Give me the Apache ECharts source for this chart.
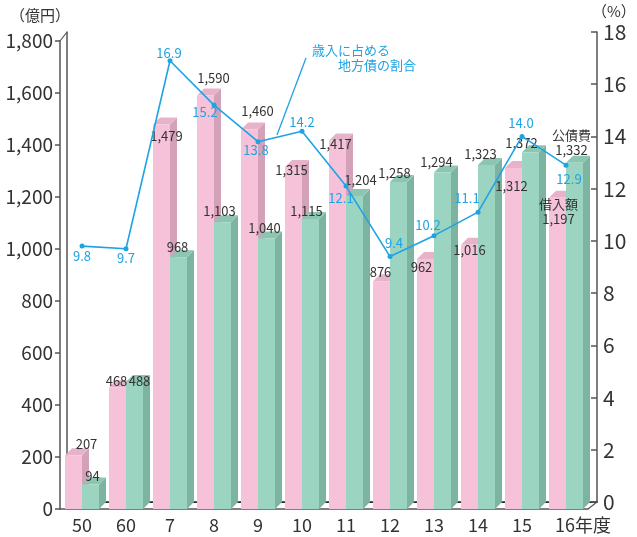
<!DOCTYPE html>
<html>
<head>
<meta charset="utf-8">
<script src="https://cdn.jsdelivr.net/npm/echarts@6/dist/echarts.min.js"></script>
<style>
  html, body { margin: 0; padding: 0; background: #fff; }
  #chart { width: 637px; height: 537px; }
</style>
</head>
<body>
<div id="chart"></div>
<script>
// 年度
const categories = ['50', '60', '7', '8', '9', '10', '11', '12', '13', '14', '15', '16年度'];
// 借入額（億円）
const borrowing = [207, 468, 1479, 1590, 1460, 1315, 1417, 876, 962, 1016, 1312, 1197];
// 公債費（億円）
const debtService = [94, 488, 968, 1103, 1040, 1115, 1204, 1258, 1294, 1323, 1372, 1332];
// 歳入に占める地方債の割合（%）
const bondShare = [9.8, 9.7, 16.9, 15.2, 13.8, 14.2, 12.1, 9.4, 10.2, 11.1, 14.0, 12.9];

const leftTicks = [0, 1800, 200];
const rightTicks = [0, 18, 2];

const FONT = '"Noto Sans CJK JP", "Noto Sans", sans-serif';
const TEXT = '#333';
const AXIS = '#555';
const BLUE = '#1ea3e4';

// label nudges (px) so texts sit clear of neighbouring marks
const borrowingLabelShift = [[13, -11], [-1, -6], [5, 12], [8, -18], [8, -18], [-2, 3], [-2, 3], [-1, -9], [-4, 8], [0, 5], [-2, 18], [1, 14]];
const debtLabelShift = [[2, -8], [5, -1], [-1, -10], [-3, -11], [-2, -11], [-4, -8], [6, -16], [-4, -9], [-6, -10], [-6, -11], [-9, -9], [-3, -20]];
const shareLabelShift = [[0, 10], [0, 9], [-1, -8], [-9, 7], [-2, 8], [0, -9], [-5, 12], [4, -13], [-6, -11], [-11, -14], [-1, -13], [3, 14]];
const borrowingCaption = ['', '', '', '', '', '', '', '', '', '', '', '借入額'];
const debtCaption = ['', '', '', '', '', '', '', '', '', '', '', '公債費'];

const BAR_W = 17, DEPTH = 7;

function fmt(v) { return v.toLocaleString('en-US'); }

function boxBar(colors, side, shifts, captions, zBase) {
  return function (params, api) {
    const i = api.value(0), v = api.value(1);
    const top = api.coord([i, v]);
    const base = api.coord([i, 0]);
    const cx = top[0];
    const x0 = side < 0 ? cx - BAR_W : cx;
    const x1 = x0 + BAR_W;
    const yT = top[1], yB = base[1];
    const sh = shifts[params.dataIndex] || [0, 0];
    const cap = captions[params.dataIndex];
    return {
      type: 'group',
      children: [
        { type: 'polygon', z2: zBase,
          shape: { points: [[x1, yT], [x1 + DEPTH, yT - DEPTH], [x1 + DEPTH, yB - DEPTH], [x1, yB]] },
          style: { fill: colors.side } },
        { type: 'polygon', z2: zBase,
          shape: { points: [[x0, yT], [x0 + DEPTH, yT - DEPTH], [x1 + DEPTH, yT - DEPTH], [x1, yT]] },
          style: { fill: colors.top } },
        { type: 'rect', z2: zBase + 1,
          shape: { x: x0, y: yT, width: BAR_W, height: yB - yT },
          style: { fill: colors.front } },
        { type: 'text', z2: 60,
          x: (x0 + x1) / 2 + sh[0], y: yT + sh[1],
          style: { text: cap ? cap + '\n' + fmt(v) : fmt(v), fill: TEXT, fontSize: 13, lineHeight: 15,
                   fontFamily: FONT, align: 'center', verticalAlign: 'middle' } }
      ]
    };
  };
}

const chart = echarts.init(document.getElementById('chart'), null, { renderer: 'canvas' });

const G0 = { left: 60, right: 49, top: 41, bottom: 28 };   // front plane (bars)
const G1 = { left: 60, right: 49, top: 32, bottom: 35 };   // line, back-plane heights
const G2 = { left: 67, right: 40, top: 32, bottom: 35 };   // back wall

const axisLine = { show: true, lineStyle: { color: AXIS, width: 1.5 } };

const option = {
  backgroundColor: '#fff',
  animation: false,
  textStyle: { fontFamily: FONT },
  grid: [
    Object.assign({}, G0),
    Object.assign({}, G1),
    Object.assign({}, G2)
  ],
  xAxis: [
    { gridIndex: 0, type: 'category', data: categories, boundaryGap: true,
      axisLine: axisLine, axisTick: { show: false },
      axisLabel: { color: TEXT, fontSize: 18, margin: 7, fontFamily: FONT, interval: 0,
        formatter: function (v, idx) { return idx === categories.length - 1 ? '{last|' + v + '}' : v; },
        rich: { last: { fontSize: 18, fontFamily: FONT, color: TEXT, padding: [0, 0, 0, 34] } } } },
    { gridIndex: 1, type: 'category', data: categories, boundaryGap: true, show: false },
    { gridIndex: 2, type: 'category', data: categories, position: 'bottom',
      axisLine: { show: true, lineStyle: { color: AXIS, width: 1 } }, axisTick: { show: false }, axisLabel: { show: false } },
    { gridIndex: 2, type: 'category', data: categories, position: 'top',
      axisLine: { show: true, lineStyle: { color: '#222', width: 1.5 } }, axisTick: { show: false }, axisLabel: { show: false } }
  ],
  yAxis: [
    { gridIndex: 0, type: 'value', min: leftTicks[0], max: leftTicks[1], interval: leftTicks[2],
      axisLine: axisLine, axisTick: { show: true, length: 5, lineStyle: { color: AXIS, width: 1.5 } },
      splitLine: { show: false },
      axisLabel: { color: TEXT, fontSize: 19, margin: 7, fontFamily: FONT, formatter: function (v) { return fmt(v); } } },
    { gridIndex: 1, type: 'value', min: rightTicks[0], max: rightTicks[1], show: false, splitLine: { show: false } },
    { gridIndex: 2, type: 'value', position: 'left', min: 0, max: 1,
      axisLine: { show: true, lineStyle: { color: AXIS, width: 1.5 } }, axisTick: { show: false },
      axisLabel: { show: false }, splitLine: { show: false } },
    { gridIndex: 2, type: 'value', position: 'right', min: rightTicks[0], max: rightTicks[1], interval: rightTicks[2],
      axisLine: { show: true, lineStyle: { color: AXIS, width: 1.5 } },
      axisTick: { show: true, inside: true, length: 6, lineStyle: { color: AXIS, width: 1.5 } },
      splitLine: { show: false },
      axisLabel: { color: TEXT, fontSize: 21, margin: 6, fontFamily: FONT } }
  ],
  series: [
    { name: '借入額', type: 'custom', xAxisIndex: 0, yAxisIndex: 0, z: 2,
      renderItem: boxBar({ front: '#f6c2da', side: '#d3a2b8', top: '#e6b3ca' }, -1, borrowingLabelShift, borrowingCaption, 0),
      data: borrowing.map((v, i) => [i, v]) },
    { name: '公債費', type: 'custom', xAxisIndex: 0, yAxisIndex: 0, z: 2,
      renderItem: boxBar({ front: '#9bd5c1', side: '#7cb3a1', top: '#8cc6b1' }, 1, debtLabelShift, debtCaption, 10),
      data: debtService.map((v, i) => [i, v]) },
    { name: '歳入に占める地方債の割合', type: 'line', xAxisIndex: 1, yAxisIndex: 1, z: 5,
      symbol: 'circle', symbolSize: 5,
      lineStyle: { color: BLUE, width: 1.6 }, itemStyle: { color: BLUE },
      label: { show: true, position: 'inside', color: BLUE, fontSize: 13, fontFamily: FONT,
        formatter: function (p) { return p.value.toFixed(1); } },
      data: bondShare.map((v, i) => ({ value: v, label: { offset: shareLabelShift[i] } })) }
  ],
  graphic: [
    // depth edges joining the front plane to the back wall
    { type: 'line', z: 10, shape: { x1: G0.left, y1: G0.top, x2: G2.left, y2: G2.top },
      style: { stroke: AXIS, lineWidth: 1.2 } },
    { type: 'line', z: 10, shape: { x1: 637 - G0.right, y1: 537 - G0.bottom, x2: 637 - G2.right, y2: 537 - G2.bottom },
      style: { stroke: AXIS, lineWidth: 1.2 } },
    // unit captions
    { type: 'text', left: 10, top: 8, style: { text: '（億円）', fill: TEXT, fontSize: 15, fontFamily: FONT } },
    { type: 'text', left: 592, top: 4, style: { text: '（%）', fill: TEXT, fontSize: 15, fontFamily: FONT } },
    // callout for the ratio line
    { type: 'line', z: 10, shape: { x1: 277, y1: 135, x2: 306, y2: 58 }, style: { stroke: BLUE, lineWidth: 1.3 } },
    { type: 'text', z: 10, left: 312, top: 44, style: { text: '歳入に占める', fill: BLUE, fontSize: 13, fontFamily: FONT } },
    { type: 'text', z: 10, left: 338, top: 59, style: { text: '地方債の割合', fill: BLUE, fontSize: 13, fontFamily: FONT } }
  ]
};

chart.setOption(option);
</script>
</body>
</html>
